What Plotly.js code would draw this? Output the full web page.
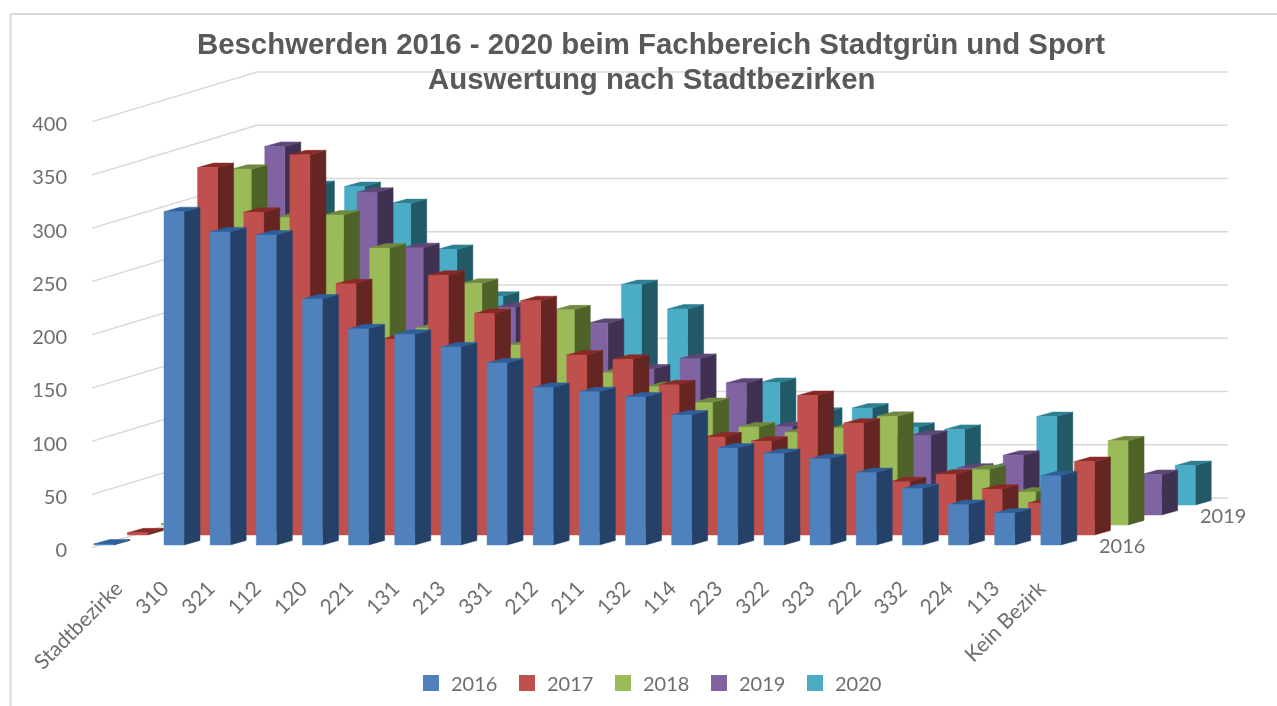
<!DOCTYPE html>
<html>
<head>
<meta charset="utf-8">
<script src="https://cdn.plot.ly/plotly-3.0.1.min.js"></script>
<style>html,body{margin:0;padding:0;background:#fff;overflow:hidden}#chart{width:1277px;height:706px;filter:blur(0.5px)}</style>
</head>
<body>
<div id="chart"></div>
<script>
const categories = ["Stadtbezirke","310","321","112","120","221","131","213","331","212","211","132","114","223","322","323","222","332","224","113","Kein Bezirk"];
const years = ["2016","2017","2018","2019","2020"];
const v2016 = [1,313,294,291,231,203,198,186,171,148,144,139,122,91,86,81,68,53,38,30,65];
const v2017 = [2,345,303,357,236,184,244,208,220,169,165,141,92,88,131,105,50,57,43,30,69];
const v2018 = [1,334,289,291,260,185,227,169,202,143,130,115,92,87,91,102,30,52,31,30,79];
const v2019 = [1,346,255,303,251,185,195,140,180,137,147,124,83,70,70,75,44,56,30,20,38];
const v2020 = [1,300,299,283,240,196,140,130,207,184,85,115,87,91,73,71,36,83,20,15,37];
const seriesValues = [v2016,v2017,v2018,v2019,v2020];
const yTicks = [0,50,100,150,200,250,300,350,400];
const depthLabels = ["2016","2019"];
const frontColors = ["#4f81bd","#c0504d","#9bbb59","#8064a2","#4bacc6"];
const sideColors  = ["#254168","#652523","#4f6228","#403152","#215967"];
const topColors   = ["#2f5f9a","#8a2a27","#71893f","#5c4776","#2f7f93"];

// oblique projection of the 3-D chart onto the plot's linear axes
const PX_X = 46.15, PX_Y = 1.065;
const SERIES_DX = 33.6/PX_X, SERIES_DY = 10/PX_Y;
const FLOOR = 3/PX_Y;
const W = 20/PX_X, DX = 16/PX_X, DY = 4.5/PX_Y;
const catPos = i => i === 0 ? -0.52 : i;

const traces = [];
// back wall gridlines
const wallX0 = (91-117.85)/PX_X, wallX1 = (257-117.85)/PX_X, wallX2 = (1228-117.85)/PX_X;
const gx = [], gy = [];
yTicks.forEach(t => { gx.push(wallX0,wallX1,wallX2,null); gy.push(t,t+50/PX_Y,t+50/PX_Y,null); });
traces.push({type:"scatter",mode:"lines",x:gx,y:gy,line:{color:"#d9d9d9",width:1.4},hoverinfo:"skip",showlegend:false});

for (let s = years.length-1; s >= 0; s--) {
  const sx=[],sy=[],tx=[],ty=[],fx=[],fy=[];
  seriesValues[s].forEach((v,i) => {
    const x = catPos(i)+s*SERIES_DX, b = FLOOR+s*SERIES_DY, t = b+v;
    sx.push(x+W,x+W+DX,x+W+DX,x+W,x+W,null); sy.push(b,b+DY,t+DY,t,b,null);
    tx.push(x,x+W,x+W+DX,x+DX,x,null);       ty.push(t,t,t+DY,t+DY,t,null);
    fx.push(x,x+W,x+W,x,x,null);             fy.push(b,b,t,t,b,null);
  });
  const face=(x,y,c)=>({type:"scatter",mode:"lines",x,y,fill:"toself",fillcolor:c,line:{color:c,width:0.5},hoverinfo:"skip",showlegend:false});
  traces.push(face(sx,sy,sideColors[s]),face(tx,ty,topColors[s]),face(fx,fy,frontColors[s]));
}
years.forEach((y,s)=>traces.push({type:"scatter",mode:"markers",name:y,x:[null],y:[null],marker:{symbol:"square",size:16,color:frontColors[s]},hoverinfo:"skip"}));

const TXT="#6e6e6e";
const layout = {
  width:1277,height:706,autosize:false,
  paper_bgcolor:"#fff",plot_bgcolor:"rgba(0,0,0,0)",
  margin:{l:92,r:37,t:60,b:158,pad:0},
  font:{family:"Lato, sans-serif",size:19,color:TXT},
  title:{text:"Beschwerden 2016 - 2020 beim Fachbereich Stadtgrün und Sport",
    x:651/1277,xanchor:"center",y:(706-44)/706,yanchor:"middle",yref:"container",
    font:{family:"Liberation Sans, Arial, sans-serif",size:29.4,color:"#595959",weight:"bold"}},
  xaxis:{range:[(92-117.85)/PX_X,(1240-117.85)/PX_X],tickmode:"array",tickvals:categories.map((c,i)=>i-0.03),ticktext:categories,
    tickangle:-45,showgrid:false,zeroline:false,showline:false,ticks:"",ticklabelstandoff:23,automargin:false,fixedrange:true,
    tickfont:{family:"Lato, sans-serif",size:21,color:TXT}},
  yaxis:{range:[0,488/PX_Y],tickmode:"array",tickvals:yTicks,ticktext:yTicks.map(String),showgrid:false,zeroline:false,showline:false,ticks:"",
    ticklabelstandoff:24,ticklabelshift:2,automargin:false,fixedrange:true,tickfont:{family:"Lato, sans-serif",size:20,color:TXT}},
  legend:{orientation:"h",x:651/1277,xanchor:"center",xref:"container",yref:"container",y:0.0326,yanchor:"middle",
    entrywidth:51,entrywidthmode:"pixels",font:{family:"Lato, sans-serif",size:20,color:TXT},bgcolor:"rgba(0,0,0,0)"},
  annotations:[
    {text:"Auswertung nach Stadtbezirken",xref:"paper",yref:"paper",x:(651-92)/1148,y:(548-78)/488,xanchor:"center",yanchor:"middle",showarrow:false,
      font:{family:"Liberation Sans, Arial, sans-serif",size:29.4,color:"#595959",weight:"bold"}},
    {text:depthLabels[0],xref:"x",yref:"y",x:(1122-117.85)/PX_X,y:(548-545)/PX_Y,showarrow:false,font:{size:20,color:TXT}},
    {text:depthLabels[1],xref:"x",yref:"y",x:(1223-117.85)/PX_X,y:(548-515)/PX_Y,showarrow:false,font:{size:20,color:TXT}}
  ],
  shapes:[
    {type:"line",xref:"paper",yref:"paper",x0:(10.5-92)/1148,x1:(10.5-92)/1148,y0:-158/488,y1:(548-14)/488,line:{color:"#d9d9d9",width:2}},
    {type:"line",xref:"paper",yref:"paper",x0:(10.5-92)/1148,x1:(1277-92)/1148,y0:(548-14)/488,y1:(548-14)/488,line:{color:"#d9d9d9",width:2}}
  ]
};
Plotly.newPlot("chart",traces,layout,{displayModeBar:false,staticPlot:true});
</script>
</body>
</html>
